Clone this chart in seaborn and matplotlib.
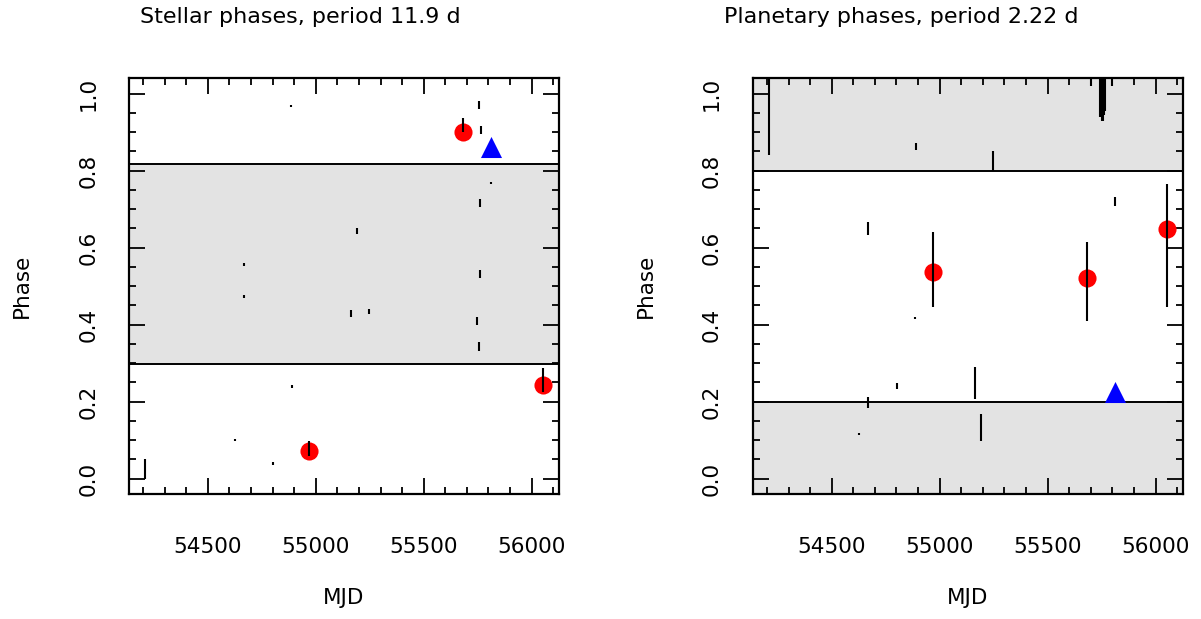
import matplotlib
matplotlib.use("Agg")
import matplotlib.pyplot as plt
import seaborn as sns
import numpy as np
import pandas as pd
from matplotlib.ticker import MultipleLocator

# ---- data ----
# stellar phases (period 11.9 d): black points with error bars
st_mjd = [54209, 54626, 54666, 54668, 54802, 54885, 54889, 55165, 55190, 55248,
          55747, 55754, 55757, 55759, 55762, 55764, 55810]
st_phase = [0.026, 0.100, 0.472, 0.556, 0.039, 0.968, 0.239, 0.428, 0.644, 0.434,
            0.410, 0.970, 0.343, 0.531, 0.716, 0.905, 0.768]
st_err = [0.026, 0.003, 0.004, 0.004, 0.003, 0.003, 0.003, 0.009, 0.008, 0.006,
          0.010, 0.011, 0.011, 0.010, 0.011, 0.010, 0.003]
st_red_mjd = [54969, 55682, 56054]
st_red_phase = [0.072, 0.901, 0.242]
st_red_lo = [0.014, 0.0, 0.017]
st_red_hi = [0.025, 0.036, 0.046]
st_blue_mjd = [55811]
st_blue_phase = [0.862]
st_band = (0.299, 0.818)   # shaded phase range

# planetary phases (period 2.22 d)
pl_mjd = [54209, 54626, 54666, 54668, 54802, 54885, 54889, 55165, 55190, 55248,
          55700, 55742, 55747, 55752, 55757, 55761, 55765, 55798, 55810]
pl_phase = [0.960, 0.116, 0.650, 0.198, 0.240, 0.418, 0.863, 0.249, 0.134, 0.825,
            1.050, 0.990, 1.000, 0.985, 0.980, 1.000, 1.005, 1.050, 0.720]
pl_err = [0.120, 0.003, 0.017, 0.014, 0.008, 0.003, 0.008, 0.041, 0.035, 0.025,
          0.030, 0.050, 0.060, 0.055, 0.050, 0.055, 0.050, 0.030, 0.012]
pl_red_mjd = [54970, 55682, 56054]
pl_red_phase = [0.537, 0.520, 0.649]
pl_red_lo = [0.091, 0.111, 0.203]
pl_red_hi = [0.103, 0.095, 0.117]
pl_blue_mjd = [55813]
pl_blue_phase = [0.226]
pl_bands = [(0.799, 1.1), (-0.1, 0.199)]

titles = ["Stellar phases, period 11.9 d", "Planetary phases, period 2.22 d"]
xticks = [54500, 55000, 55500, 56000]
yticks = [0.0, 0.2, 0.4, 0.6, 0.8, 1.0]

sns.set_style("ticks")
plt.rcParams["font.family"] = ["DejaVu Sans"]
plt.rcParams["text.color"] = "black"
plt.rcParams["axes.labelcolor"] = "black"
plt.rcParams["xtick.labelcolor"] = "black"
plt.rcParams["ytick.labelcolor"] = "black"

fig = plt.figure(figsize=(12.01, 6.19), dpi=100)
ax1 = fig.add_axes([0.1072, 0.2019, 0.3585, 0.6716])
ax2 = fig.add_axes([0.6267, 0.2019, 0.3585, 0.6716])

grey = "#e3e3e3"


def draw_panel(ax, bands, mjd, phase, err, red, blue):
    for lo, hi in bands:
        ax.axhspan(lo, hi, color=grey, lw=0, zorder=0)
        for edge in (lo, hi):
            if 0 < edge < 1:
                ax.axhline(edge, color="black", lw=1.4, zorder=1)
    rdf = pd.DataFrame({"MJD": red[0], "Phase": red[1]})
    sns.scatterplot(data=rdf, x="MJD", y="Phase", ax=ax, color="#ff0000",
                    s=170, linewidth=0, zorder=3, legend=False)
    bdf = pd.DataFrame({"MJD": blue[0], "Phase": blue[1]})
    sns.scatterplot(data=bdf, x="MJD", y="Phase", ax=ax, color="#0000ff",
                    marker="^", s=230, linewidth=0, zorder=3, legend=False)
    ax.errorbar(red[0], red[1], yerr=[red[2], red[3]], fmt="none",
                ecolor="black", elinewidth=1.5, capsize=0, zorder=4)
    ax.errorbar(mjd, phase, yerr=err, fmt="none",
                ecolor="black", elinewidth=1.5, capsize=0, zorder=4)


draw_panel(ax1, [st_band], st_mjd, st_phase, st_err,
           (st_red_mjd, st_red_phase, st_red_lo, st_red_hi),
           (st_blue_mjd, st_blue_phase))
draw_panel(ax2, pl_bands, pl_mjd, pl_phase, pl_err,
           (pl_red_mjd, pl_red_phase, pl_red_lo, pl_red_hi),
           (pl_blue_mjd, pl_blue_phase))

for ax, title, xc in zip([ax1, ax2], titles, [0.25, 0.75]):
    ax.set_xlim(54134, 56128)
    ax.set_ylim(-0.04, 1.04)
    ax.set_xticks(xticks)
    ax.set_yticks(yticks)
    ax.xaxis.set_minor_locator(MultipleLocator(100))
    ax.yaxis.set_minor_locator(MultipleLocator(0.05))
    ax.set_yticklabels([f"{v:.1f}" for v in yticks], rotation=90, va="center")
    ax.tick_params(which="both", direction="in", top=True, right=True,
                   color="black", width=1.3)
    ax.tick_params(which="major", length=11.5, labelsize=15.5)
    ax.tick_params(which="minor", length=5)
    ax.tick_params(axis="x", which="major", pad=31)
    ax.tick_params(axis="y", which="major", pad=22)
    for sp in ax.spines.values():
        sp.set_linewidth(1.6)
        sp.set_color("black")
    ax.set_xlabel("MJD", fontsize=15.5)
    ax.set_ylabel("Phase", fontsize=15.5)
    ax.xaxis.set_label_coords(0.5, -0.226)
    ax.yaxis.set_label_coords(-0.225, 0.5)
    fig.text(xc, 0.9624, title, ha="center", va="baseline", fontsize=16)

fig.savefig("out.png", dpi=100)
plt.close(fig)
